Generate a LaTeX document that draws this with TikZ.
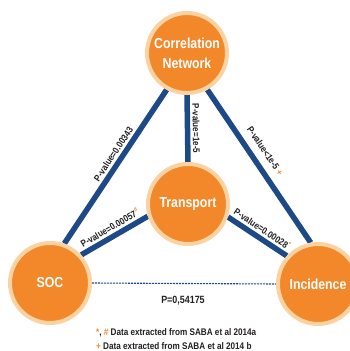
\documentclass[tikz,border=0pt]{standalone}
\usepackage{fontspec}
\setmainfont{Liberation Sans}[FakeStretch=0.85]
\usetikzlibrary{backgrounds}
\definecolor{orfill}{HTML}{F2882A}
\definecolor{orring}{HTML}{FBD3A2}
\definecolor{navy}{HTML}{1D4A87}
\definecolor{ink}{HTML}{231F20}
\tikzset{
  bubble/.style={circle, fill=orfill, draw=orring, line width=4pt, minimum size=80pt, inner sep=0pt,
    text=white, font=\bfseries\fontsize{14.5}{20}\selectfont, align=center},
  link/.style={draw=navy, line width=5.5pt},
  weak/.style={draw=navy, line width=1.1pt, dash pattern=on 2pt off 1pt},
  plabel/.style={sloped, above=2.5pt, inner sep=0pt, text=ink, font=\bfseries\fontsize{9.5}{11}\selectfont},
  note/.style={text=ink, font=\bfseries\fontsize{9.6}{11}\selectfont, inner sep=0pt}
}
\begin{document}
\begin{tikzpicture}[x=1pt, y=-1pt]
\useasboundingbox (0,0) rectangle (349,351);
\node[bubble] (cn) at (187,53) {Correlation\\Network};
\node[bubble] (tr) at (188,204) {Transport};
\node[bubble] (soc) at (50,283) {SOC};
\node[bubble] (inc) at (318,284) {Incidence};
\begin{scope}[on background layer]
\draw[link] (soc.70) -- node[plabel, pos=0.55] {P-value=0.00343} (cn.241);
\draw[link] (tr.north) -- node[plabel, pos=0.5] {P-value=1e-5} (cn.south);
\draw[link] (cn.299) -- node[plabel, pos=0.45, above=5pt] {P-value<1e-5 \textcolor{orfill}{+}} (inc.100);
\draw[link] (soc.42) -- node[plabel, pos=0.5] {P-value=0.00057\textsuperscript{\textcolor{orfill}{\#}}} (tr.197);
\draw[link] (tr.-18) -- node[plabel, pos=0.5] {P-value=0.00028\textsuperscript{\textcolor{orfill}{*}}} (inc.138);
\draw[weak] (soc.east) -- (inc.west);
\end{scope}
\node[note, font=\bfseries\fontsize{10.5}{12}\selectfont] (pv) at (183,301) {P=0,54175};
\node[note, anchor=west] (n1) at (96,333) {\textcolor{orfill}{*}, \textcolor{orfill}{\#} Data extracted from SABA et al 2014a};
\node[note, anchor=west] (n2) at (96,346) {\textcolor{orfill}{+} Data extracted from SABA et al 2014 b};
\end{tikzpicture}
\end{document}
